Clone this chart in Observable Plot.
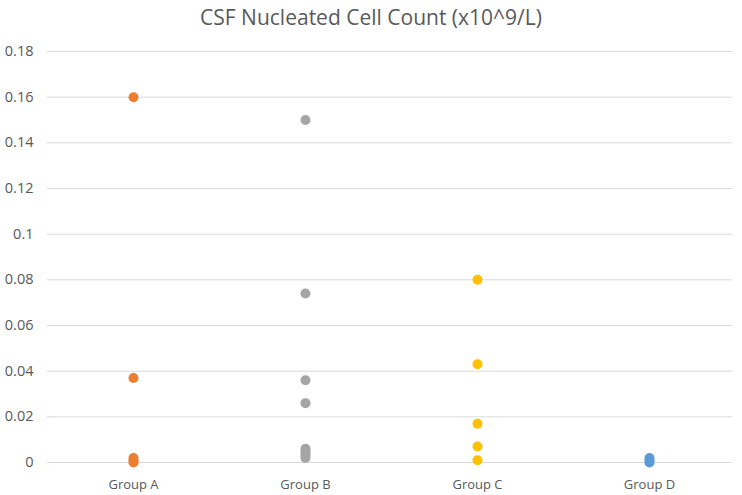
<!DOCTYPE html>
<html>
<head>
<meta charset="utf-8">
<script src="https://cdn.jsdelivr.net/npm/d3@7"></script>
<script src="https://cdn.jsdelivr.net/npm/@observablehq/plot@0.6"></script>
<style>
  html, body { margin: 0; padding: 0; background: #fff; }
  #title { height: 36px; line-height: 34px; text-align: center; font-family: "Open Sans", sans-serif; font-size: 21px; color: #595959; }
</style>
</head>
<body>
<div id="title">CSF Nucleated Cell Count (x10^9/L)</div>
<div id="chart"></div>
<script>
const groups = ["Group A", "Group B", "Group C", "Group D"];
const colors = ["#ED7D31", "#A5A5A5", "#FFC000", "#5B9BD5"];
const groupA = [0.16, 0.037, 0.002, 0.001, 0];
const groupB = [0.15, 0.074, 0.036, 0.026, 0.006, 0.005, 0.004, 0.003, 0.002];
const groupC = [0.08, 0.043, 0.017, 0.007, 0.001];
const groupD = [0.002, 0.001, 0];
const yTicks = [0, 0.02, 0.04, 0.06, 0.08, 0.1, 0.12, 0.14, 0.16, 0.18];

const series = [groupA, groupB, groupC, groupD];
const data = series.flatMap((vals, i) => vals.map(v => ({group: groups[i], value: v})));

const chart = Plot.plot({
  width: 742,
  height: 459,
  marginTop: 15,
  marginBottom: 33,
  marginLeft: 47,
  marginRight: 7,
  style: {fontFamily: "'Open Sans', sans-serif", fontSize: "12px", color: "#595959", background: "#fff"},
  x: {type: "band", domain: groups, padding: 0, label: null},
  y: {domain: [0, 0.18], label: null},
  color: {domain: groups, range: colors},
  marks: [
    Plot.ruleY(yTicks, {stroke: "#d9d9d9", strokeWidth: 1, insetRight: 3}),
    Plot.axisY(yTicks, {tickSize: 0, tickPadding: 14, fontSize: 14.5, fill: "#595959", label: null, tickFormat: d => String(d)}),
    Plot.axisX({tickSize: 0, tickPadding: 17, fontSize: 13, fill: "#595959", label: null}),
    Plot.dot(data, {x: "group", y: "value", fill: "group", r: 5, stroke: null})
  ]
});
document.getElementById("chart").appendChild(chart);
</script>
</body>
</html>
